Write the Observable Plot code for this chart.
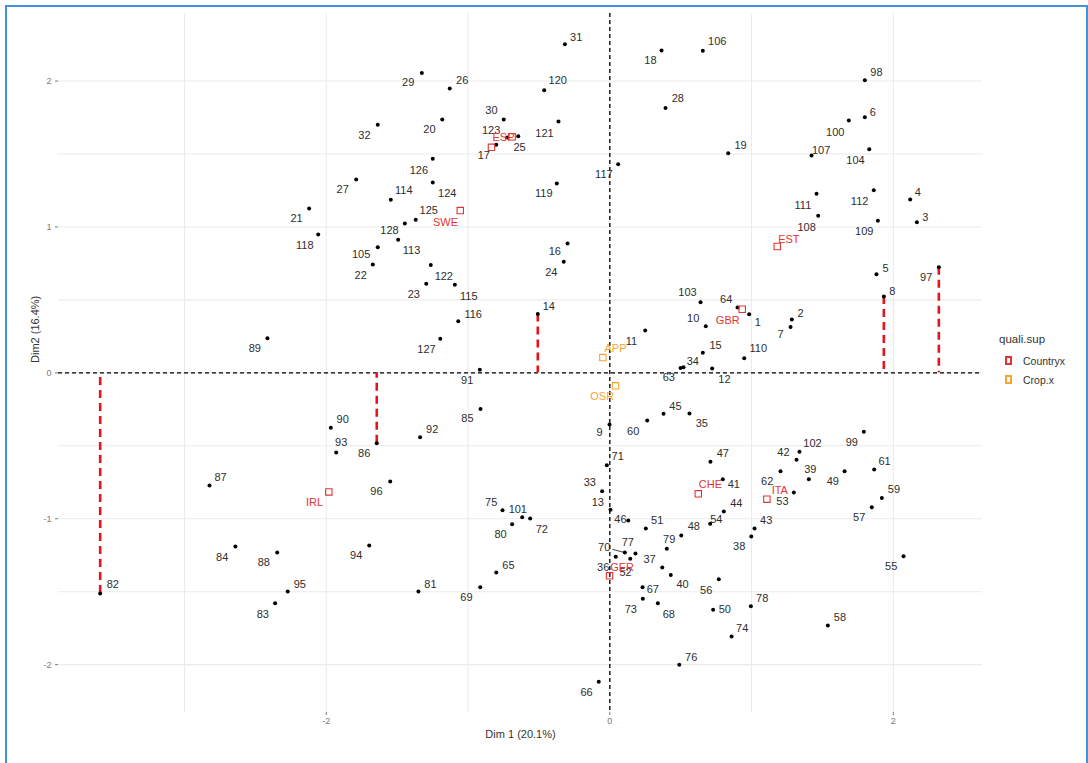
<!DOCTYPE html>
<html>
<head>
<meta charset="utf-8">
<script src="https://cdn.jsdelivr.net/npm/d3@7"></script>
<script src="https://cdn.jsdelivr.net/npm/@observablehq/plot@0.6"></script>
<style>
  html, body { margin: 0; padding: 0; background: #fff; overflow: hidden; }
  #wrap { position: relative; width: 1088px; height: 763px; overflow: hidden; font-family: 'Liberation Sans', Arial, sans-serif; }
  #frame { position: absolute; left: 5px; top: 5px; height: 800px; border: 2.5px solid #4191dd; box-sizing: border-box; width: 1083px; pointer-events: none; }
  #chart { position: absolute; left: 0; top: 0; }
  #legend { position: absolute; left: 999px; top: 333px; color: #333; }
  #legend .title { font-size: 11.5px; margin-bottom: 6px; }
  #legend .item { display: flex; align-items: center; height: 19px; font-size: 10.5px; }
  #legend .key { width: 3px; height: 5px; border: 2px solid; margin: 0 11px 0 6px; }
</style>
</head>
<body>
<div id="wrap">
  <div id="chart"></div>
  <div id="legend"></div>
  <div id="frame"></div>
</div>
<script>
// ---- individuals (rows 1..128): coordinates on Dim 1 / Dim 2 ----
const ids = d3.range(1, 129);
const dim1 = [
  0.983, 1.284, 2.166, 2.119, 1.881, 1.799, 1.275, 1.933, -0.002, 0.677,
  0.250, 0.722, 0.005, -0.508, 0.656, -0.298, -0.801, 0.365, 0.835, -1.182,
  -2.121, -1.672, -1.295, -0.325, -0.646, -1.129, -1.789, 0.393, -1.326, -0.748,
  -0.317, -1.637, -0.054, 0.520, 0.562, 0.042, 0.370, 0.998, 1.404, 0.430,
  0.797, 1.317, 1.021, 0.804, 0.379, 0.130, 0.710, 0.504, 1.656, 0.729,
  0.254, 0.144, 1.298, 0.708, 2.072, 0.769, 1.848, 1.538, 1.919, 0.264,
  1.865, 1.204, 0.499, 0.901, -0.801, -0.078, 0.231, 0.339, -0.914, 0.106,
  -0.021, -0.562, 0.233, 0.859, -0.757, 0.490, 0.181, 0.995, 0.402, -0.689,
  -1.350, -3.595, -2.361, -2.641, -0.912, -1.644, -2.824, -2.346, -2.415, -1.968,
  -0.917, -1.338, -1.930, -1.697, -2.272, -1.549, 2.321, 1.799, 1.792, 1.686,
  -0.618, 1.338, 0.640, 1.830, -1.637, 0.656, 1.423, 1.470, 1.891, 0.948,
  1.458, 1.862, -1.493, -1.545, -1.093, -1.069, 0.059, -2.057, -0.374, -0.463,
  -0.362, -1.263, -0.724, -1.249, -1.369, -1.249, -1.196, -1.446
];
const dim2 = [
  0.402, 0.365, 1.032, 1.188, 0.676, 1.752, 0.315, 0.523, -0.354, 0.319,
  0.290, 0.029, -0.939, 0.404, 0.137, 0.886, 1.563, 2.209, 1.505, 1.736,
  1.126, 0.742, 0.610, 0.761, 1.622, 1.949, 1.325, 1.816, 2.056, 1.736,
  2.252, 1.700, -0.812, 0.038, -0.279, -1.261, -1.334, -1.122, -0.729, -1.385,
  -0.729, -0.596, -1.067, -0.951, -0.281, -1.012, -0.610, -1.115, -0.674, -1.624,
  -1.067, -1.275, -0.820, -1.035, -1.257, -1.415, -0.921, -1.732, -0.857, -0.327,
  -0.663, -0.674, 0.034, 0.448, -1.369, -2.118, -1.470, -1.579, -1.470, -1.232,
  -0.633, -0.999, -1.549, -1.807, -0.942, -2.001, -1.239, -1.600, -1.206, -1.038,
  -1.499, -1.513, -1.579, -1.191, -0.247, -0.483, -0.772, -1.232, 0.237, -0.377,
  0.021, -0.441, -0.546, -1.184, -1.499, -0.745, 0.724, 2.005, -0.404, 1.729,
  -0.990, -0.541, 0.484, 1.533, 0.861, 2.207, 1.489, 1.076, 1.042, 0.100,
  1.227, 1.252, 0.912, 1.186, 0.603, 0.354, 1.430, 0.948, 1.297, 1.937,
  1.722, 0.740, 1.613, 1.304, 1.049, 1.467, 0.233, 1.023
];
// repelled label anchors (data units), as placed in the original
const labX = [
  1.044, 1.345, 2.225, 2.173, 1.945, 1.855, 1.204, 1.992, -0.073, 0.588,
  0.153, 0.809, -0.085, -0.430, 0.746, -0.388, -0.889, 0.287, 0.922, -1.272,
  -2.210, -1.757, -1.383, -0.413, -0.637, -1.041, -1.884, 0.480, -1.422, -0.835,
  -0.237, -1.731, -0.141, 0.586, 0.649, -0.047, 0.280, 0.913, 1.414, 0.513,
  0.875, 1.225, 1.103, 0.892, 0.463, 0.075, 0.797, 0.593, 1.573, 0.811,
  0.334, 0.111, 1.218, 0.751, 1.985, 0.680, 1.759, 1.623, 2.004, 0.165,
  1.938, 1.110, 0.416, 0.821, -0.715, -0.164, 0.303, 0.416, -1.011, -0.040,
  0.056, -0.480, 0.148, 0.934, -0.837, 0.574, 0.127, 1.075, 0.419, -0.771,
  -1.265, -3.506, -2.448, -2.734, -1.004, -1.733, -2.746, -2.441, -2.504, -1.884,
  -1.006, -1.253, -1.895, -1.789, -2.187, -1.646, 2.232, 1.881, 1.707, 1.590,
  -0.649, 1.430, 0.548, 1.733, -1.754, 0.758, 1.491, 1.388, 1.795, 1.047,
  1.362, 1.762, -1.399, -1.453, -0.995, -0.964, -0.042, -2.152, -0.466, -0.367,
  -0.461, -1.171, -0.837, -1.147, -1.277, -1.347, -1.293, -1.554
];
const labY = [
  0.345, 0.408, 1.066, 1.234, 0.713, 1.786, 0.260, 0.559, -0.407, 0.374,
  0.215, -0.048, -0.891, 0.456, 0.189, 0.833, 1.489, 2.138, 1.556, 1.668,
  1.056, 0.669, 0.535, 0.687, 1.542, 2.003, 1.254, 1.882, 1.990, 1.798,
  2.298, 1.626, -0.752, 0.075, -0.350, -1.332, -1.278, -1.191, -0.661, -1.453,
  -0.768, -0.546, -1.014, -0.894, -0.229, -1.008, -0.555, -1.056, -0.745, -1.620,
  -1.014, -1.367, -0.884, -1.005, -1.326, -1.494, -0.992, -1.675, -0.802, -0.400,
  -0.610, -0.745, -0.034, 0.504, -1.319, -2.191, -1.487, -1.655, -1.542, -1.195,
  -0.574, -1.074, -1.620, -1.751, -0.887, -1.949, -1.163, -1.549, -1.145, -1.108,
  -1.449, -1.449, -1.657, -1.264, -0.315, -0.553, -0.716, -1.300, 0.164, -0.322,
  -0.053, -0.387, -0.478, -1.254, -1.449, -0.812, 0.651, 2.056, -0.478, 1.647,
  -0.937, -0.485, 0.548, 1.453, 0.809, 2.273, 1.524, 0.998, 0.971, 0.164,
  1.147, 1.176, 0.836, 1.249, 0.523, 0.398, 1.357, 0.873, 1.231, 2.003,
  1.642, 0.660, 1.663, 1.231, 1.110, 1.387, 0.160, 0.975
];
const leaderIds = [70];
const droplineIds = [82, 86, 14, 8, 97];

// ---- supplementary qualitative categories ----
const countryNames = ["ESP", "SWE", "EST", "GBR", "IRL", "CHE", "ITA", "GER", ""];
const countryX = [-0.689, -1.055, 1.181, 0.934, -1.982, 0.624, 1.108, -0.002, -0.835];
const countryY = [1.618, 1.112, 0.866, 0.436, -0.816, -0.829, -0.866, -1.391, 1.546];
const countryLabX = [-0.750, -1.159, 1.263, 0.832, -2.083, 0.710, 1.199, 0.087, -0.835];
const countryLabY = [1.613, 1.030, 0.916, 0.358, -0.891, -0.768, -0.807, -1.332, 1.546];
const cropNames = ["APP", "OSR"];
const cropX = [-0.049, 0.040];
const cropY = [0.105, -0.089];
const cropLabX = [0.040, -0.054];
const cropLabY = [0.164, -0.164];

const groupNames = ["Countryx", "Crop.x"];
const groupColors = ["#e3342f", "#f5a431"];

// ---- axes ----
const xTicks = [-2, 0, 2];
const yTicks = [-2, -1, 0, 1, 2];
const xGrid = [-3, -2, -1, 0, 1, 2];
const yGrid = [-2, -1.5, -1, -0.5, 0, 0.5, 1, 1.5, 2];
const xTitle = "Dim 1 (20.1%)";
const yTitle = "Dim2 (16.4%)";
const legendTitle = "quali.sup";

const pts = ids.map((id, i) => ({id, x: dim1[i], y: dim2[i], lx: labX[i], ly: labY[i]}));
const countries = countryNames.map((n, i) => ({n, x: countryX[i], y: countryY[i], lx: countryLabX[i], ly: countryLabY[i]}));
const crops = cropNames.map((n, i) => ({n, x: cropX[i], y: cropY[i], lx: cropLabX[i], ly: cropLabY[i]}));

const fmt = d => String(d);
const chart = Plot.plot({
  width: 1088,
  height: 763,
  marginLeft: 58,
  marginRight: 106,
  marginTop: 13,
  marginBottom: 51,
  style: {fontFamily: "'Liberation Sans', Arial, sans-serif", background: "transparent"},
  x: {domain: [-3.889, 2.629]},
  y: {domain: [-2.328, 2.463]},
  marks: [
    Plot.ruleX(xGrid, {stroke: "#ebebeb", strokeWidth: 1.1}),
    Plot.ruleY(yGrid, {stroke: "#ebebeb", strokeWidth: 1.1}),
    Plot.axisX({ticks: xTicks, tickFormat: fmt, tickSize: 3, tickPadding: 2, fontSize: 9, color: "#7a7a7a", label: null}),
    Plot.axisY({ticks: yTicks, tickFormat: fmt, tickSize: 3, tickPadding: 4, fontSize: 9, color: "#7a7a7a", label: null}),
    Plot.text([xTitle], {frameAnchor: "bottom", dy: 25, fontSize: 11, fill: "#333"}),
    Plot.text([yTitle], {frameAnchor: "left", dx: -23, rotate: -90, fontSize: 11, fill: "#333"}),
    Plot.ruleX([0], {stroke: "#000", strokeWidth: 1.3, strokeDasharray: "4,3"}),
    Plot.ruleY([0], {stroke: "#000", strokeWidth: 1.3, strokeDasharray: "4,3"}),
    Plot.ruleX(pts.filter(d => droplineIds.includes(d.id)), {x: "x", y1: "y", y2: 0, stroke: "#e8141c", strokeWidth: 2.6, strokeDasharray: "8,5"}),
    Plot.arrow(pts.filter(d => leaderIds.includes(d.id)), {x1: "lx", y1: "ly", x2: "x", y2: "y", headLength: 0, insetStart: 9, insetEnd: 2, stroke: "#333", strokeWidth: 0.9}),
    Plot.dot(pts, {x: "x", y: "y", r: 2, fill: "#000"}),
    Plot.dot(countries, {x: "x", y: "y", symbol: "square", r: 3.6, stroke: groupColors[0], strokeWidth: 1.1, fill: "none"}),
    Plot.dot(crops, {x: "x", y: "y", symbol: "square", r: 3.6, stroke: groupColors[1], strokeWidth: 1.1, fill: "none"}),
    Plot.text(pts, {x: "lx", y: "ly", text: d => String(d.id), fontSize: 11, fill: "#2e2e2e"}),
    Plot.text(countries, {x: "lx", y: "ly", text: "n", fontSize: 11, fill: groupColors[0]}),
    Plot.text(crops, {x: "lx", y: "ly", text: "n", fontSize: 11, fill: groupColors[1]})
  ]
});
document.getElementById("chart").appendChild(chart);

// legend
const lg = document.getElementById("legend");
const t = document.createElement("div");
t.className = "title"; t.textContent = legendTitle; lg.appendChild(t);
groupNames.forEach((g, i) => {
  const it = document.createElement("div"); it.className = "item";
  const k = document.createElement("div"); k.className = "key";
  k.style.borderColor = groupColors[i];
  k.style.background = "#fff";
  const s = document.createElement("span"); s.textContent = g;
  it.appendChild(k); it.appendChild(s); lg.appendChild(it);
});
</script>
</body>
</html>
